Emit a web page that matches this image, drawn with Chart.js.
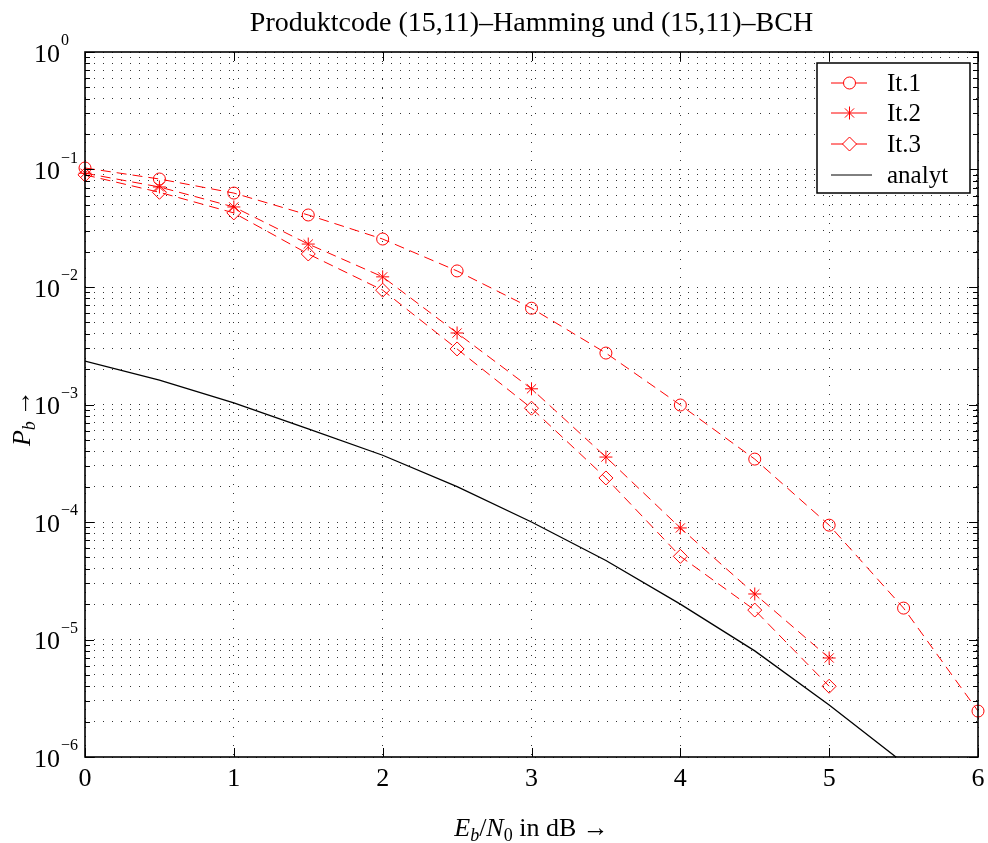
<!DOCTYPE html>
<html lang="de">
<head>
<meta charset="UTF-8">
<title>Produktcode (15,11)-Hamming und (15,11)-BCH</title>
<script src="https://cdn.jsdelivr.net/npm/chart.js@4.4.0/dist/chart.umd.min.js"></script>
<style>
  html, body { margin: 0; padding: 0; background: #fff; }
  #wrap { width: 988px; height: 843px; }
</style>
</head>
<body>
<div id="wrap"><canvas id="chart"></canvas></div>
<script>
// values
const ebn0 = [0, 0.5, 1, 1.5, 2, 2.5, 3, 3.5, 4, 4.5, 5, 5.5, 6];
const it1 = [0.103, 0.083, 0.063, 0.041, 0.0256, 0.0137, 0.0066, 0.00274, 0.00099, 0.000343, 9.4e-5, 1.85e-5, 2.46e-6];
const it2 = [0.093, 0.071, 0.048, 0.0232, 0.0122, 0.00406, 0.00136, 0.000357, 8.9e-5, 2.44e-5, 6.96e-6];
const it3 = [0.090, 0.064, 0.0427, 0.0191, 0.0094, 0.00297, 0.00093, 0.000237, 5.1e-5, 1.78e-5, 4.0e-6];
const analytX = [0, 0.5, 1, 1.5, 2, 2.5, 3, 3.5, 4, 4.5, 5, 5.5];
const analytY = [0.00234, 0.00161, 0.00103, 0.00062, 0.00037, 0.0002, 0.0001, 4.7e-5, 2.0e-5, 8.0e-6, 2.77e-6, 8.9e-7];
const xTicks = [0, 1, 2, 3, 4, 5, 6];
const yExps = [0, -1, -2, -3, -4, -5, -6];

const titleText = 'Produktcode (15,11)\u2013Hamming und (15,11)\u2013BCH';
const serif = '"Liberation Serif", "Times New Roman", serif';
const red = '#ff0000';

function pts(xs, ys) {
  return ys.map((v, i) => ({ x: xs[i], y: v }));
}

// draws a marker like the ones in the plot, for the legend
function marker(ctx, style, x, y) {
  ctx.beginPath();
  if (style === 'circle') {
    ctx.arc(x, y, 6, 0, Math.PI * 2);
  } else if (style === 'star') {
    const r = 6.5, d = r * Math.SQRT1_2;
    ctx.moveTo(x - r, y); ctx.lineTo(x + r, y);
    ctx.moveTo(x, y - r); ctx.lineTo(x, y + r);
    ctx.moveTo(x - d, y - d); ctx.lineTo(x + d, y + d);
    ctx.moveTo(x - d, y + d); ctx.lineTo(x + d, y - d);
  } else if (style === 'rectRot') {
    const r = 7;
    ctx.moveTo(x, y - r); ctx.lineTo(x + r, y); ctx.lineTo(x, y + r); ctx.lineTo(x - r, y); ctx.closePath();
  }
  ctx.stroke();
}

const framePlugin = {
  id: 'frame',
  afterDraw(chart) {
    const ctx = chart.ctx;
    const a = chart.chartArea;
    const xs = chart.scales.x, ys = chart.scales.y;
    ctx.save();
    ctx.strokeStyle = '#000';
    ctx.lineWidth = 1;

    // inner tick marks
    ctx.beginPath();
    ys.ticks.forEach(t => {
      const py = Math.round(ys.getPixelForValue(t.value)) + 0.5;
      const len = t.major ? 9 : 5;
      ctx.moveTo(a.left, py); ctx.lineTo(a.left + len, py);
      ctx.moveTo(a.right, py); ctx.lineTo(a.right - len, py);
    });
    xTicks.forEach(v => {
      const px = Math.round(xs.getPixelForValue(v)) + 0.5;
      ctx.moveTo(px, a.bottom); ctx.lineTo(px, a.bottom - 9);
      ctx.moveTo(px, a.top); ctx.lineTo(px, a.top + 9);
    });
    ctx.stroke();

    // box
    ctx.lineWidth = 1.6;
    ctx.strokeRect(a.left, a.top, a.right - a.left, a.bottom - a.top);

    ctx.fillStyle = '#000';

    // title, centred over the plot box
    ctx.font = '28px ' + serif;
    ctx.textAlign = 'center';
    ctx.textBaseline = 'alphabetic';
    ctx.fillText(titleText, (a.left + a.right) / 2, 31);

    // x tick labels
    ctx.font = '26px ' + serif;
    ctx.textBaseline = 'middle';
    xTicks.forEach(v => {
      ctx.fillText(String(v), xs.getPixelForValue(v), a.bottom + 22);
    });

    // y tick labels 10^n
    yExps.forEach(e => {
      const py = ys.getPixelForValue(Math.pow(10, e));
      ctx.font = '26px ' + serif;
      ctx.textAlign = 'right';
      ctx.textBaseline = 'middle';
      ctx.fillText('10', 60, py + 3);
      ctx.font = '16px ' + serif;
      ctx.textAlign = 'left';
      ctx.fillText(e < 0 ? '\u2212' + (-e) : String(e), 61, py - 11);
    });

    // x axis title: E_b/N_0 in dB ->
    const parts = [
      ['italic 26px ' + serif, 'E', 0],
      ['italic 18px ' + serif, 'b', 5],
      ['26px ' + serif, '/', 0],
      ['italic 26px ' + serif, 'N', 0],
      ['18px ' + serif, '0', 5],
      ['26px ' + serif, ' in dB \u2192', 0]
    ];
    let total = 0;
    parts.forEach(p => { ctx.font = p[0]; total += ctx.measureText(p[1]).width; });
    let cx = (a.left + a.right) / 2 - total / 2;
    ctx.textAlign = 'left';
    ctx.textBaseline = 'alphabetic';
    parts.forEach(p => {
      ctx.font = p[0];
      ctx.fillText(p[1], cx, 836 + p[2]);
      cx += ctx.measureText(p[1]).width;
    });

    // y axis title: P_b ->
    ctx.save();
    ctx.translate(30, 418);
    ctx.rotate(-Math.PI / 2);
    const yparts = [
      ['italic 26px ' + serif, 'P', 0],
      ['italic 18px ' + serif, 'b', 5],
      ['26px ' + serif, '\u2009\u2192', 0]
    ];
    let ytot = 0;
    yparts.forEach(p => { ctx.font = p[0]; ytot += ctx.measureText(p[1]).width; });
    let cy = -ytot / 2;
    yparts.forEach(p => {
      ctx.font = p[0];
      ctx.fillText(p[1], cy, p[2]);
      cy += ctx.measureText(p[1]).width;
    });
    ctx.restore();

    // legend
    const lx = 817, ly = 63, lw = 153, lh = 130;
    ctx.fillStyle = '#fff';
    ctx.fillRect(lx, ly, lw, lh);
    ctx.lineWidth = 1.5;
    ctx.strokeStyle = '#000';
    ctx.strokeRect(lx, ly, lw, lh);
    const rowY = [83, 113, 144, 175];
    chart.data.datasets.forEach((ds, i) => {
      const y = rowY[i];
      ctx.strokeStyle = ds.borderColor;
      ctx.lineWidth = 1;
      ctx.beginPath();
      ctx.moveTo(831, y); ctx.lineTo(ds.pointRadius ? 843 : 872, y);
      if (ds.pointRadius) { ctx.moveTo(856, y); ctx.lineTo(867, y); }
      ctx.stroke();
      if (ds.pointRadius) marker(ctx, ds.pointStyle, 849.5, y);
      ctx.fillStyle = '#000';
      ctx.font = '25px ' + serif;
      ctx.textBaseline = 'middle';
      ctx.fillText(ds.label, 887, y + 1);
    });
    ctx.restore();
  }
};

const redSet = (label, data, style, r) => ({
  label: label,
  data: data,
  borderColor: red,
  borderWidth: 1,
  borderDash: [10, 6],
  pointStyle: style,
  pointRadius: r,
  pointBorderColor: red,
  pointBackgroundColor: 'rgba(0,0,0,0)',
  pointBorderWidth: 1,
  tension: 0,
  clip: false
});

new Chart(document.getElementById('chart'), {
  type: 'line',
  data: {
    datasets: [
      redSet('It.1', pts(ebn0, it1), 'circle', 6),
      redSet('It.2', pts(ebn0, it2), 'star', 6.5),
      redSet('It.3', pts(ebn0, it3), 'rectRot', 7),
      {
        label: 'analyt',
        data: pts(analytX, analytY),
        borderColor: '#000',
        borderWidth: 1.3,
        pointRadius: 0,
        tension: 0
      }
    ]
  },
  options: {
    responsive: true,
    maintainAspectRatio: false,
    animation: false,
    events: [],
    layout: { padding: { left: 0, right: 10, top: 52, bottom: 0 } },
    plugins: {
      legend: { display: false },
      tooltip: { enabled: false },
      title: { display: false }
    },
    scales: {
      x: {
        type: 'linear',
        min: 0,
        max: 6,
        afterBuildTicks: s => { s.ticks = xTicks.map(v => ({ value: v })); },
        afterFit: s => { s.height = 86; },
        ticks: { display: false },
        grid: { color: 'rgba(0,0,0,0.8)', drawTicks: false, lineWidth: 1 },
        border: { display: false, dash: [1, 8] }
      },
      y: {
        type: 'logarithmic',
        min: 1e-6,
        max: 1,
        afterBuildTicks: s => {
          const t = [];
          for (let e = -6; e < 0; e++) {
            for (let m = 1; m < 10; m++) t.push({ value: m * Math.pow(10, e), major: m === 1 });
          }
          t.push({ value: 1, major: true });
          s.ticks = t;
        },
        afterFit: s => { s.width = 85; },
        ticks: { display: false, autoSkip: false },
        grid: { color: 'rgba(0,0,0,0.8)', drawTicks: false, lineWidth: 1 },
        border: { display: false, dash: [1, 8] }
      }
    }
  },
  plugins: [framePlugin]
});
</script>
</body>
</html>
